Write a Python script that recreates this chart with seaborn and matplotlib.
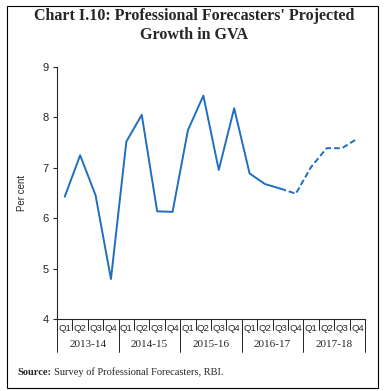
import matplotlib
matplotlib.use("Agg")
import matplotlib.pyplot as plt
import matplotlib.transforms as mtransforms
from matplotlib.patches import Rectangle
import seaborn as sns
import pandas as pd

quarters = ["Q1", "Q2", "Q3", "Q4"] * 5
years = ["2013-14", "2014-15", "2015-16", "2016-17", "2017-18"]
actual = [6.43, 7.25, 6.46, 4.80, 7.52, 8.05, 6.14, 6.13, 7.75, 8.43,
          6.96, 8.18, 6.89, 6.68, 6.59]
projected = [6.59, 6.49, 7.02, 7.39, 7.39, 7.58]

blue = "#1f6fc0"

sns.set_style("ticks")
plt.rcParams["font.family"] = ["Liberation Sans", "DejaVu Sans"]

df_a = pd.DataFrame({"x": range(len(actual)), "y": actual})
df_p = pd.DataFrame({"x": range(len(actual) - 1, len(actual) - 1 + len(projected)), "y": projected})

fig = plt.figure(figsize=(3.88, 3.91), dpi=100)
ax = fig.add_axes([0.147, 0.183, 0.794, 0.646])

sns.lineplot(data=df_a, x="x", y="y", ax=ax, color=blue, linewidth=1.4)
sns.lineplot(data=df_p, x="x", y="y", ax=ax, color=blue, linewidth=1.4, linestyle=(0, (3, 1.5)))

ax.set_xlim(-0.5, 19.5)
ax.set_ylim(4, 9)
ax.set_yticks(range(4, 10))
ax.tick_params(axis="y", labelsize=8, length=3, width=0.8, pad=3)
ax.set_xticks(range(20))
ax.set_xticklabels(quarters, fontsize=6.8)
ax.tick_params(axis="x", length=0, pad=3)
ax.set_xlabel("")
ax.set_ylabel("Per cent", fontsize=7, labelpad=11)
sns.despine(ax=ax)
for s in ["left", "bottom"]:
    ax.spines[s].set_linewidth(0.8)

trans = mtransforms.blended_transform_factory(ax.transData, ax.transAxes)
for i in range(1, 20):
    if i % 4:
        ax.plot([i - 0.5, i - 0.5], [0, -0.042], transform=trans, color="black",
                lw=0.6, clip_on=False)
for i in range(6):
    ax.plot([i * 4 - 0.5, i * 4 - 0.5], [0, -0.127], transform=trans, color="black",
            lw=0.6, clip_on=False)
for i, yr in enumerate(years):
    ax.text(i * 4 + 1.5, -0.1, yr, transform=trans, ha="center", va="center",
            fontsize=8, family="Liberation Serif")

fig.text(0.5, 0.935, "Chart I.10: Professional Forecasters' Projected\nGrowth in GVA",
         ha="center", va="center", fontsize=11.5, fontweight="bold",
         family="Liberation Serif", linespacing=1.25)
fig.text(0.045, 0.048, "Source:", fontsize=7.5, fontweight="bold",
         family="Liberation Serif", va="center")
fig.text(0.14, 0.048, "Survey of Professional Forecasters, RBI.", fontsize=7.5,
         family="Liberation Serif", va="center")

fig.patches.append(Rectangle((0.018, 0.008), 0.957, 0.977, transform=fig.transFigure,
                             fill=False, edgecolor="black", lw=0.8))

fig.savefig("out.png", dpi=100)
